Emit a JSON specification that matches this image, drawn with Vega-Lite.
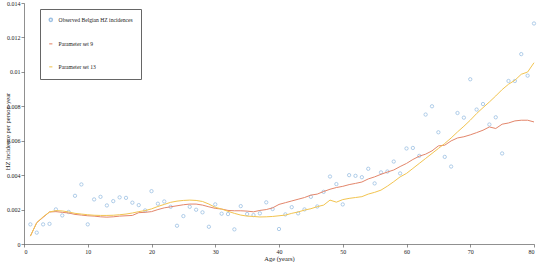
{
  "$schema": "https://vega.github.io/schema/vega-lite/v6.json",
  "width": 510,
  "height": 241,
  "autosize": {"type": "none"},
  "padding": {"left": 24, "top": 3, "right": 4, "bottom": 18},
  "background": "white",
  "config": {
    "view": {"stroke": null},
    "font": "Liberation Serif",
    "axis": {"grid": false, "domainColor": "#444", "tickColor": "#444", "labelColor": "#222", "titleColor": "#222", "labelFont": "Liberation Serif", "titleFont": "Liberation Serif", "labelFontSize": 6, "titleFontSize": 6.5, "titleFontWeight": "normal", "domainWidth": 0.6, "tickWidth": 0.6}
  },
  "datasets": {
    "obs": [
      {"age":1,"v":0.00114},{"age":2,"v":0.00066},{"age":3,"v":0.00114},{"age":4,"v":0.00117},{"age":5,"v":0.00201},
      {"age":6,"v":0.00166},{"age":7,"v":0.00186},{"age":8,"v":0.0028},{"age":9,"v":0.00346},{"age":10,"v":0.00114},
      {"age":11,"v":0.00259},{"age":12,"v":0.00274},{"age":13,"v":0.00224},{"age":14,"v":0.00249},{"age":15,"v":0.00271},
      {"age":16,"v":0.00268},{"age":17,"v":0.0024},{"age":18,"v":0.00226},{"age":19,"v":0.00195},{"age":20,"v":0.00307},
      {"age":21,"v":0.00234},{"age":22,"v":0.00247},{"age":23,"v":0.00216},{"age":24,"v":0.00106},{"age":25,"v":0.00162},
      {"age":26,"v":0.00216},{"age":27,"v":0.00199},{"age":28,"v":0.00184},{"age":29,"v":0.001},{"age":30,"v":0.0023},
      {"age":31,"v":0.00176},{"age":32,"v":0.00174},{"age":33,"v":0.00085},{"age":34,"v":0.0022},{"age":35,"v":0.00174},
      {"age":36,"v":0.00168},{"age":37,"v":0.00178},{"age":38,"v":0.00242},{"age":39,"v":0.00203},{"age":40,"v":0.00087},
      {"age":41,"v":0.00172},{"age":42,"v":0.00214},{"age":43,"v":0.00178},{"age":44,"v":0.00201},{"age":45,"v":0.00274},
      {"age":46,"v":0.00218},{"age":47,"v":0.00303},{"age":48,"v":0.00392},{"age":49,"v":0.00348},{"age":50,"v":0.0023},
      {"age":51,"v":0.004},{"age":52,"v":0.00396},{"age":53,"v":0.00388},{"age":54,"v":0.00437},{"age":55,"v":0.00352},
      {"age":56,"v":0.00416},{"age":57,"v":0.00421},{"age":58,"v":0.00479},{"age":59,"v":0.0041},{"age":60,"v":0.00555},
      {"age":61,"v":0.00558},{"age":62,"v":0.00512},{"age":63,"v":0.00752},{"age":64,"v":0.008},{"age":65,"v":0.00649},
      {"age":66,"v":0.00506},{"age":67,"v":0.0045},{"age":68,"v":0.00761},{"age":69,"v":0.00734},{"age":70,"v":0.00957},
      {"age":71,"v":0.00781},{"age":72,"v":0.00813},{"age":73,"v":0.00694},{"age":74,"v":0.00736},{"age":75,"v":0.00526},
      {"age":76,"v":0.00947},{"age":77,"v":0.00947},{"age":78,"v":0.01103},{"age":79,"v":0.00978},{"age":80,"v":0.01281}
    ],
    "p9": [
      {"age":1,"v":0.00046},{"age":2,"v":0.00124},{"age":3,"v":0.00155},{"age":4,"v":0.00186},{"age":5,"v":0.00188},
      {"age":6,"v":0.00184},{"age":7,"v":0.0018},{"age":8,"v":0.00172},{"age":9,"v":0.00168},{"age":10,"v":0.00164},
      {"age":11,"v":0.00162},{"age":12,"v":0.00158},{"age":13,"v":0.00156},{"age":14,"v":0.00158},{"age":15,"v":0.00162},
      {"age":16,"v":0.00164},{"age":17,"v":0.00166},{"age":18,"v":0.00182},{"age":19,"v":0.00184},{"age":20,"v":0.00188},
      {"age":21,"v":0.002},{"age":22,"v":0.0021},{"age":23,"v":0.00216},{"age":24,"v":0.00222},{"age":25,"v":0.00228},
      {"age":26,"v":0.00232},{"age":27,"v":0.00232},{"age":28,"v":0.00226},{"age":29,"v":0.00216},{"age":30,"v":0.00207},
      {"age":31,"v":0.00203},{"age":32,"v":0.00195},{"age":33,"v":0.00193},{"age":34,"v":0.00193},{"age":35,"v":0.00191},
      {"age":36,"v":0.00187},{"age":37,"v":0.00195},{"age":38,"v":0.002},{"age":39,"v":0.0021},{"age":40,"v":0.0023},
      {"age":41,"v":0.0024},{"age":42,"v":0.0025},{"age":43,"v":0.0026},{"age":44,"v":0.0027},{"age":45,"v":0.00284},
      {"age":46,"v":0.0029},{"age":47,"v":0.00305},{"age":48,"v":0.00318},{"age":49,"v":0.00328},{"age":50,"v":0.00335},
      {"age":51,"v":0.00345},{"age":52,"v":0.00352},{"age":53,"v":0.0036},{"age":54,"v":0.00378},{"age":55,"v":0.0039},
      {"age":56,"v":0.00405},{"age":57,"v":0.00418},{"age":58,"v":0.0043},{"age":59,"v":0.0045},{"age":60,"v":0.00468},
      {"age":61,"v":0.00491},{"age":62,"v":0.0051},{"age":63,"v":0.00522},{"age":64,"v":0.00541},{"age":65,"v":0.0057},
      {"age":66,"v":0.00574},{"age":67,"v":0.00599},{"age":68,"v":0.00616},{"age":69,"v":0.00623},{"age":70,"v":0.00634},
      {"age":71,"v":0.00647},{"age":72,"v":0.00661},{"age":73,"v":0.0068},{"age":74,"v":0.00671},{"age":75,"v":0.00696},
      {"age":76,"v":0.00703},{"age":77,"v":0.00715},{"age":78,"v":0.00719},{"age":79,"v":0.00719},{"age":80,"v":0.00709}
    ],
    "p13": [
      {"age":1,"v":0.00046},{"age":2,"v":0.00124},{"age":3,"v":0.00158},{"age":4,"v":0.00186},{"age":5,"v":0.00194},
      {"age":6,"v":0.00192},{"age":7,"v":0.00186},{"age":8,"v":0.00178},{"age":9,"v":0.00174},{"age":10,"v":0.0017},
      {"age":11,"v":0.00167},{"age":12,"v":0.00166},{"age":13,"v":0.00166},{"age":14,"v":0.00167},{"age":15,"v":0.0017},
      {"age":16,"v":0.00174},{"age":17,"v":0.0018},{"age":18,"v":0.00188},{"age":19,"v":0.00194},{"age":20,"v":0.00204},
      {"age":21,"v":0.00218},{"age":22,"v":0.0023},{"age":23,"v":0.00242},{"age":24,"v":0.00249},{"age":25,"v":0.00253},
      {"age":26,"v":0.00255},{"age":27,"v":0.00253},{"age":28,"v":0.00247},{"age":29,"v":0.00232},{"age":30,"v":0.00213},
      {"age":31,"v":0.00203},{"age":32,"v":0.0019},{"age":33,"v":0.00178},{"age":34,"v":0.00168},{"age":35,"v":0.00162},
      {"age":36,"v":0.0016},{"age":37,"v":0.00157},{"age":38,"v":0.00158},{"age":39,"v":0.0016},{"age":40,"v":0.00164},
      {"age":41,"v":0.00168},{"age":42,"v":0.00178},{"age":43,"v":0.00186},{"age":44,"v":0.00197},{"age":45,"v":0.00205},
      {"age":46,"v":0.00217},{"age":47,"v":0.00226},{"age":48,"v":0.00255},{"age":49,"v":0.00243},{"age":50,"v":0.00258},
      {"age":51,"v":0.00265},{"age":52,"v":0.0027},{"age":53,"v":0.00275},{"age":54,"v":0.0029},{"age":55,"v":0.003},
      {"age":56,"v":0.00313},{"age":57,"v":0.00336},{"age":58,"v":0.00362},{"age":59,"v":0.0039},{"age":60,"v":0.0041},
      {"age":61,"v":0.00439},{"age":62,"v":0.00468},{"age":63,"v":0.00497},{"age":64,"v":0.00526},{"age":65,"v":0.00555},
      {"age":66,"v":0.00584},{"age":67,"v":0.00616},{"age":68,"v":0.00651},{"age":69,"v":0.00684},{"age":70,"v":0.00719},
      {"age":71,"v":0.00758},{"age":72,"v":0.00792},{"age":73,"v":0.00825},{"age":74,"v":0.0086},{"age":75,"v":0.00897},
      {"age":76,"v":0.00928},{"age":77,"v":0.00951},{"age":78,"v":0.00986},{"age":79,"v":0.00999},{"age":80,"v":0.01053}
    ]
  },
  "encoding": {
    "x": {"field": "age", "type": "quantitative", "scale": {"domain": [0, 80], "nice": false}, "axis": {"values": [0,10,20,30,40,50,60,70,80], "title": "Age (years)", "tickSize": 3, "labelPadding": 1, "titlePadding": 1}},
    "y": {"field": "v", "type": "quantitative", "scale": {"domain": [0, 0.014], "nice": false}, "axis": {"values": [0,0.002,0.004,0.006,0.008,0.01,0.012,0.014], "format": "~g", "title": "HZ incidence per person-year", "tickSize": 3, "labelPadding": 1, "titleX": -14, "titleY": 128}}
  },
  "layer": [
    {
      "data": {"name": "obs"},
      "transform": [{"calculate": "'Observed Belgian HZ incidences'", "as": "series"}],
      "mark": {"type": "point", "filled": false, "size": 11, "strokeWidth": 0.8},
      "encoding": {
        "color": {"field": "series", "type": "nominal", "scale": {"domain": ["Observed Belgian HZ incidences", "Parameter set 9", "Parameter set 13"], "range": ["#74a7d8", "#e3866b", "#f2c450"]},
          "legend": {"orient": "none", "legendX": 16, "legendY": 6, "title": null, "strokeColor": "#666", "fillColor": "white", "padding": 8, "labelFontSize": 5.6, "labelFont": "Liberation Serif", "labelColor": "#222", "rowPadding": 15, "symbolSize": 10, "labelOffset": 5}},
        "shape": {"field": "series", "type": "nominal", "scale": {"domain": ["Observed Belgian HZ incidences", "Parameter set 9", "Parameter set 13"], "range": ["circle", "stroke", "stroke"]}, "legend": null}
      }
    },
    {
      "data": {"name": "p9"},
      "transform": [{"calculate": "'Parameter set 9'", "as": "series"}],
      "mark": {"type": "line", "strokeWidth": 1},
      "encoding": {"color": {"field": "series", "type": "nominal"}}
    },
    {
      "data": {"name": "p13"},
      "transform": [{"calculate": "'Parameter set 13'", "as": "series"}],
      "mark": {"type": "line", "strokeWidth": 1},
      "encoding": {"color": {"field": "series", "type": "nominal"}}
    }
  ]
}
